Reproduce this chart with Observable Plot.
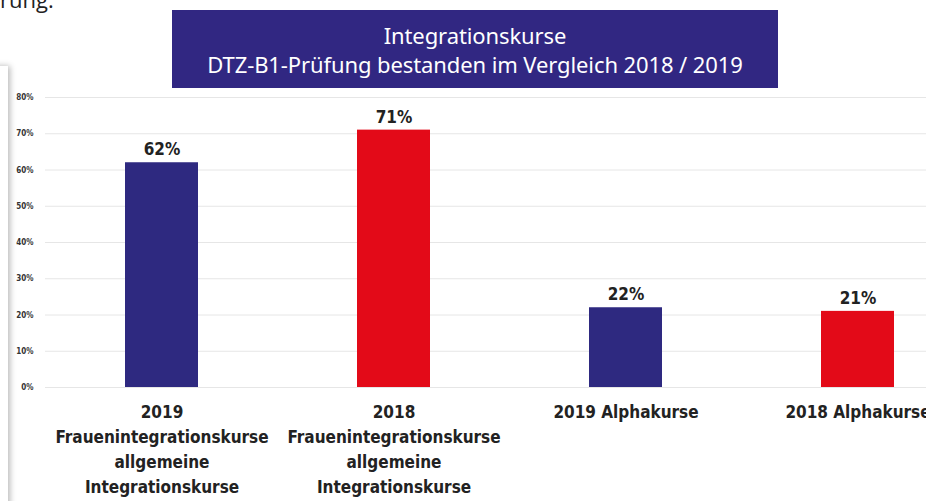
<!DOCTYPE html>
<html>
<head>
<meta charset="utf-8">
<script src="https://cdn.jsdelivr.net/npm/d3@7"></script>
<script src="https://cdn.jsdelivr.net/npm/@observablehq/plot@0.6"></script>
<style>
  html, body { margin: 0; padding: 0; background: #fff; }
  #wrap { position: relative; width: 926px; height: 501px; overflow: hidden; background: #fff; }
  #frag { position: absolute; left: 0; top: -16px; font: 400 22px "Open Sans", sans-serif; color: #222; }
  #shadow { position: absolute; left: -20px; top: 66px; width: 28px; height: 460px;
            background: #fff; box-shadow: 2px 0 6px rgba(0,0,0,0.28); }
  #title { position: absolute; left: 172px; top: 10px; width: 606px; height: 78px;
           background: #312782; color: #fff; text-align: center;
           font: 400 22px "Noto Sans", sans-serif; line-height: 29px;
           padding-top: 11px; box-sizing: border-box; z-index: 2; letter-spacing: -0.1px; }
  #chart { position: absolute; left: 0; top: 0; }
  #chart svg { max-width: none !important; }
</style>
</head>
<body>
<div id="wrap">
  <div id="frag">rung.</div>
  <div id="shadow"></div>
  <div id="chart"></div>
  <div id="title">Integrationskurse<br>DTZ-B1-Prüfung bestanden im Vergleich 2018 / 2019</div>
</div>
<script>
const categories = [
  "2019\nFrauenintegrationskurse\nallgemeine\nIntegrationskurse",
  "2018\nFrauenintegrationskurse\nallgemeine\nIntegrationskurse",
  "2019 Alphakurse",
  "2018 Alphakurse"
];
const years = ["2019", "2018", "2019", "2018"];
const values = [0.62, 0.71, 0.22, 0.21];
const yTicks = [0, 0.1, 0.2, 0.3, 0.4, 0.5, 0.6, 0.7, 0.8];

const data = categories.map((c, i) => ({category: c, year: years[i], value: values[i]}));

const chart = Plot.plot({
  width: 990,
  height: 501,
  marginLeft: 45,
  marginRight: 16,
  marginTop: 97,
  marginBottom: 114,
  style: {background: "transparent", color: "#222", maxWidth: "none"},
  x: {domain: categories, paddingInner: 0.685, paddingOuter: 0.3425, label: null},
  y: {domain: [0, 0.8], label: null},
  color: {domain: ["2019", "2018"], range: ["#2e2980", "#e30a18"]},
  marks: [
    Plot.gridY(yTicks, {stroke: "#e6e6e6", strokeOpacity: 1, strokeWidth: 1}),
    Plot.axisY(yTicks, {tickFormat: d3.format(".0%"), tickSize: 0, tickPadding: 12,
      fontSize: 8, fontWeight: "bold", fill: "#333", fontFamily: "DejaVu Sans Condensed, sans-serif", label: null}),
    Plot.barY(data, {x: "category", y: "value", fill: "year"}),
    Plot.text(data, {x: "category", y: "value", text: d => d3.format(".0%")(d.value),
      dy: -13, fontSize: 17, fontWeight: "bold", fill: "#222",
      fontFamily: "DejaVu Sans Condensed, sans-serif"}),
    Plot.axisX({tickSize: 0, tickPadding: 13, fontSize: 17, fontWeight: "bold", fill: "#222",
      lineHeight: 1.47, fontFamily: "Liberation Sans Narrow, DejaVu Sans Condensed, sans-serif", label: null})
  ]
});
document.getElementById("chart").appendChild(chart);
</script>
</body>
</html>
